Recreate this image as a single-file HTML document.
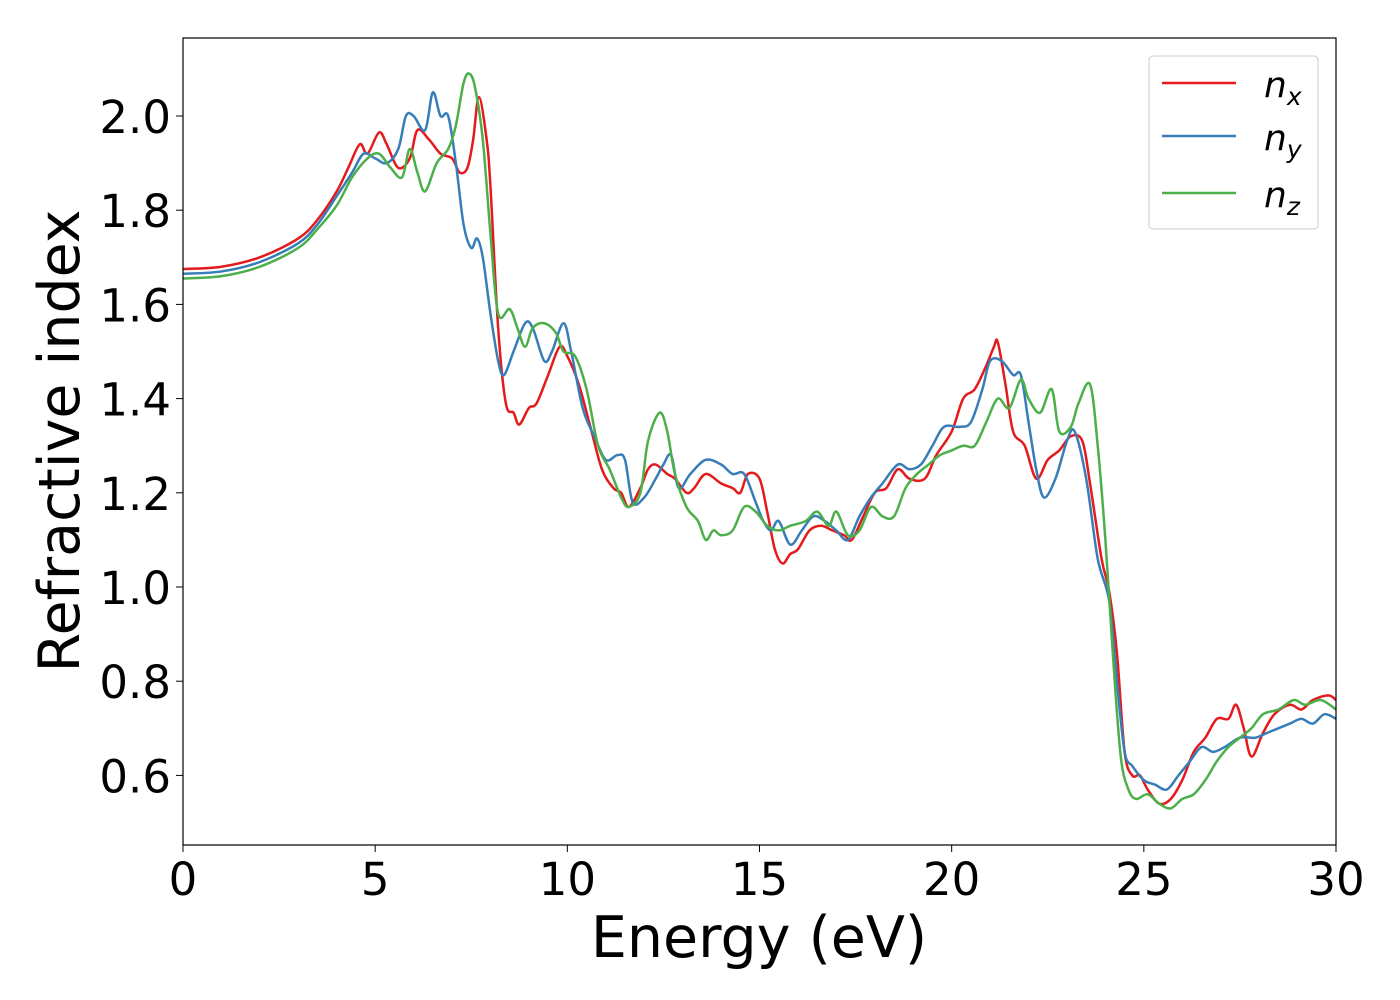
<!DOCTYPE html>
<html><head><meta charset="utf-8"><style>
body{margin:0;background:#fff;}
svg{display:block;font-family:"DejaVu Sans","Liberation Sans",sans-serif;}
</style></head><body>
<svg id="chart" width="1400" height="1000">
<rect x="0" y="0" width="1400" height="1000" fill="#fff"/>
<g id="ticks"></g>
<g id="series" clip-path="url(#clip)"></g>
<clipPath id="clip"><rect x="183" y="38" width="1153" height="807"/></clipPath>
<rect x="183" y="38" width="1153" height="807" fill="none" stroke="#000" stroke-width="1.2"/>
<text x="759" y="957" font-size="57" text-anchor="middle">Energy (eV)</text>
<text transform="translate(79,441) rotate(-90)" font-size="57" text-anchor="middle">Refractive index</text>
<g>
<rect x="1149" y="56" width="169" height="173" rx="4" fill="#fff" stroke="#ccc" stroke-width="1"/>
<g><line x1="1162" y1="83" x2="1236" y2="83" stroke="#e41a1c" stroke-width="2.5"/><text x="1264" y="97" font-size="36" font-style="italic">n<tspan font-size="25" dy="8">x</tspan></text></g>
<g><line x1="1162" y1="136" x2="1236" y2="136" stroke="#377eb8" stroke-width="2.5"/><text x="1264" y="150" font-size="36" font-style="italic">n<tspan font-size="25" dy="8">y</tspan></text></g>
<g><line x1="1162" y1="193" x2="1236" y2="193" stroke="#4daf4a" stroke-width="2.5"/><text x="1264" y="207" font-size="36" font-style="italic">n<tspan font-size="25" dy="8">z</tspan></text></g>
</g>
</svg>
<script>
const xTicks=[0,5,10,15,20,25,30];
const yTicks=[0.6,0.8,1.0,1.2,1.4,1.6,1.8,2.0];
const nxE=[0,1,2,3,3.5,4,4.3,4.6,4.8,5.1,5.3,5.6,5.9,6.1,6.4,6.7,7.0,7.2,7.4,7.55,7.7,7.9,8.0,8.2,8.4,8.6,8.75,9.0,9.2,9.5,9.8,10.0,10.3,10.6,10.9,11.2,11.4,11.6,11.9,12.1,12.3,12.6,12.8,13.1,13.3,13.6,14.0,14.3,14.5,14.7,15.0,15.2,15.4,15.6,15.8,16.0,16.3,16.6,16.9,17.2,17.4,17.7,18.0,18.3,18.6,18.9,19.3,19.6,20.0,20.3,20.6,20.9,21.1,21.2,21.4,21.6,21.9,22.2,22.5,22.8,23.1,23.4,23.6,23.9,24.1,24.3,24.5,24.7,24.9,25.1,25.4,25.7,26.0,26.3,26.6,26.9,27.2,27.4,27.6,27.8,28.1,28.4,28.8,29.1,29.4,29.8,30];
const nxV=[1.675,1.68,1.70,1.74,1.78,1.84,1.89,1.94,1.92,1.965,1.94,1.89,1.91,1.97,1.95,1.92,1.91,1.88,1.89,1.95,2.04,1.95,1.85,1.55,1.39,1.37,1.345,1.38,1.39,1.45,1.51,1.49,1.43,1.34,1.25,1.21,1.20,1.17,1.21,1.25,1.26,1.24,1.23,1.20,1.21,1.24,1.22,1.21,1.20,1.24,1.23,1.16,1.08,1.05,1.07,1.08,1.12,1.13,1.12,1.11,1.10,1.15,1.20,1.21,1.25,1.23,1.23,1.28,1.33,1.40,1.42,1.47,1.51,1.52,1.43,1.33,1.30,1.23,1.27,1.29,1.32,1.31,1.22,1.06,0.99,0.86,0.65,0.60,0.60,0.57,0.54,0.55,0.59,0.65,0.68,0.72,0.72,0.75,0.70,0.64,0.69,0.73,0.75,0.74,0.76,0.77,0.76];
const nyE=[0,1,2,3,3.5,4,4.4,4.7,5.0,5.3,5.6,5.8,6.0,6.3,6.5,6.7,6.9,7.1,7.3,7.5,7.65,7.8,8.0,8.2,8.35,8.6,8.9,9.1,9.4,9.6,9.9,10.1,10.4,10.7,11.0,11.3,11.5,11.7,12.0,12.3,12.5,12.7,12.9,13.2,13.6,14.0,14.3,14.6,14.9,15.1,15.3,15.5,15.8,16.1,16.4,16.7,17.0,17.3,17.6,17.9,18.2,18.6,18.9,19.2,19.5,19.8,20.2,20.5,20.8,21.0,21.3,21.6,21.8,22.0,22.2,22.4,22.7,23.0,23.2,23.5,23.8,24.1,24.3,24.5,24.7,25.0,25.3,25.6,25.9,26.2,26.5,26.8,27.1,27.5,27.9,28.2,28.5,28.8,29.1,29.4,29.7,30];
const nyV=[1.665,1.67,1.69,1.73,1.77,1.83,1.88,1.92,1.91,1.90,1.93,2.00,2.00,1.97,2.05,2.00,2.00,1.90,1.77,1.72,1.74,1.70,1.58,1.48,1.45,1.50,1.56,1.55,1.48,1.50,1.56,1.50,1.38,1.32,1.27,1.28,1.27,1.18,1.19,1.23,1.26,1.28,1.21,1.24,1.27,1.26,1.24,1.24,1.18,1.14,1.12,1.14,1.09,1.12,1.15,1.14,1.12,1.10,1.15,1.19,1.22,1.26,1.25,1.26,1.30,1.34,1.34,1.35,1.42,1.48,1.48,1.45,1.45,1.35,1.25,1.19,1.23,1.31,1.33,1.23,1.06,0.97,0.80,0.65,0.62,0.59,0.58,0.57,0.60,0.63,0.66,0.65,0.66,0.68,0.68,0.69,0.70,0.71,0.72,0.71,0.73,0.72];
const nzE=[0,1,2,3,3.5,4,4.4,4.8,5.1,5.4,5.7,5.9,6.1,6.3,6.6,6.9,7.1,7.3,7.45,7.6,7.8,8.0,8.2,8.5,8.7,8.9,9.1,9.4,9.7,9.9,10.2,10.5,10.8,11.1,11.4,11.6,11.9,12.1,12.4,12.6,12.8,13.1,13.4,13.6,13.8,14.0,14.3,14.6,14.9,15.2,15.5,15.8,16.2,16.5,16.8,17.0,17.3,17.6,17.9,18.2,18.5,18.8,19.1,19.4,19.7,20.0,20.3,20.6,20.9,21.2,21.5,21.8,22.0,22.3,22.6,22.8,23.1,23.3,23.6,23.8,24.0,24.2,24.4,24.6,24.8,25.1,25.4,25.7,26.0,26.3,26.6,26.9,27.2,27.5,27.8,28.1,28.5,28.9,29.2,29.6,30];
const nzV=[1.655,1.66,1.68,1.72,1.76,1.81,1.87,1.91,1.92,1.89,1.87,1.93,1.88,1.84,1.90,1.93,1.98,2.07,2.09,2.06,1.95,1.75,1.58,1.59,1.55,1.51,1.55,1.56,1.54,1.50,1.49,1.42,1.30,1.25,1.19,1.17,1.20,1.31,1.37,1.33,1.24,1.17,1.14,1.10,1.12,1.11,1.12,1.17,1.16,1.13,1.12,1.13,1.14,1.16,1.13,1.16,1.11,1.12,1.17,1.15,1.15,1.21,1.24,1.26,1.28,1.29,1.30,1.30,1.35,1.40,1.38,1.44,1.40,1.37,1.42,1.33,1.34,1.39,1.43,1.30,1.10,0.85,0.64,0.57,0.55,0.56,0.54,0.53,0.55,0.56,0.59,0.63,0.66,0.68,0.70,0.73,0.74,0.76,0.75,0.76,0.74];
const X0=183,X1=1336,Y2=116,Y1=587;
const sx=v=>X0+(v/30)*(X1-X0);
const sy=v=>Y1-(v-1.0)*(Y1-Y2);
const NS="http://www.w3.org/2000/svg";
const tg=document.getElementById('ticks');
xTicks.forEach(t=>{
  const l=document.createElementNS(NS,'line');
  l.setAttribute('x1',sx(t));l.setAttribute('x2',sx(t));l.setAttribute('y1',845);l.setAttribute('y2',852);l.setAttribute('stroke','#000');
  
  
  tg.appendChild(l);
  const s=document.createElementNS(NS,'text');
  s.setAttribute('x',sx(t));s.setAttribute('y',895);s.setAttribute('font-size','45');s.setAttribute('text-anchor','middle');
  s.textContent=t;
  
  
  tg.appendChild(s);
});
yTicks.forEach(t=>{
  const l=document.createElementNS(NS,'line');
  l.setAttribute('x1',176);l.setAttribute('x2',183);l.setAttribute('y1',sy(t));l.setAttribute('y2',sy(t));l.setAttribute('stroke','#000');
  
  
  tg.appendChild(l);
  const s=document.createElementNS(NS,'text');
  s.setAttribute('x',171);s.setAttribute('y',sy(t)+17);s.setAttribute('font-size','45');s.setAttribute('text-anchor','end');
  s.textContent=t.toFixed(1);
  
  
  tg.appendChild(s);
});
function path(E,V){
  const p=E.map((e,i)=>[sx(e),sy(V[i])]);
  let d='M'+p[0][0]+','+p[0][1];
  for(let i=0;i<p.length-1;i++){
    const a=p[Math.max(0,i-1)],b=p[i],c=p[i+1],n=p[Math.min(p.length-1,i+2)];
    const c1=[b[0]+(c[0]-a[0])/6,b[1]+(c[1]-a[1])/6];
    const c2=[c[0]-(n[0]-b[0])/6,c[1]-(n[1]-b[1])/6];
    d+=` C${c1[0]},${c1[1]} ${c2[0]},${c2[1]} ${c[0]},${c[1]}`;
  }
  return d;
}
const sg=document.getElementById('series');
[[nxE,nxV,'#e41a1c','series-nx'],[nyE,nyV,'#377eb8','series-ny'],[nzE,nzV,'#4daf4a','series-nz']].forEach(s=>{
  const p=document.createElementNS(NS,'path');
  p.setAttribute('d',path(s[0],s[1]));p.setAttribute('fill','none');p.setAttribute('stroke',s[2]);p.setAttribute('stroke-width','2.5');
  
  
  sg.appendChild(p);
});
</script>
</body></html>
